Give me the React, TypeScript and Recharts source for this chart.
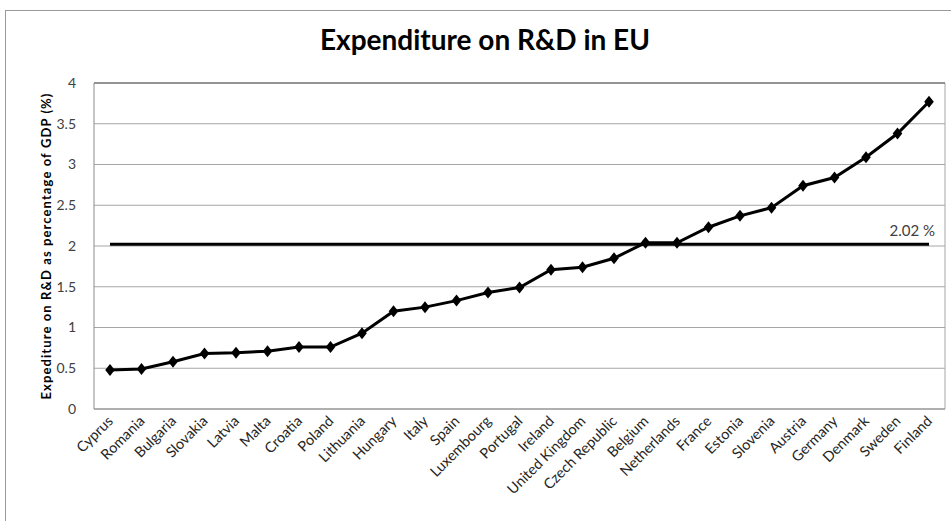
import React from 'react';
import { LineChart, Line, XAxis, YAxis, CartesianGrid, ReferenceLine } from 'recharts';

const countries = [
  'Cyprus', 'Romania', 'Bulgaria', 'Slovakia', 'Latvia', 'Malta', 'Croatia', 'Poland',
  'Lithuania', 'Hungary', 'Italy', 'Spain', 'Luxembourg', 'Portugal', 'Ireland',
  'United Kingdom', 'Czech Republic', 'Belgium', 'Netherlands', 'France', 'Estonia',
  'Slovenia', 'Austria', 'Germany', 'Denmark', 'Sweden', 'Finland',
];

const rdShare = [
  0.48, 0.49, 0.58, 0.68, 0.69, 0.71, 0.76, 0.76, 0.93, 1.2, 1.25, 1.33, 1.43, 1.49,
  1.71, 1.74, 1.85, 2.04, 2.04, 2.23, 2.37, 2.47, 2.74, 2.84, 3.09, 3.38, 3.77,
];

const euAverage = 2.02;
const yTicks = [0, 0.5, 1, 1.5, 2, 2.5, 3, 3.5, 4];

const data = countries.map((c, i) => ({ country: c, value: rdShare[i], avg: euAverage }));

const font = 'Lato, "Open Sans", sans-serif';

const Diamond = (props: any) => {
  const { cx, cy } = props;
  if (cx == null || cy == null) return null;
  const r = 6;
  return (
    <polygon
      points={`${cx},${cy - r} ${cx + r * 0.8},${cy} ${cx},${cy + r} ${cx - r * 0.8},${cy}`}
      fill="#000"
    />
  );
};

const CountryTick = (props: any) => {
  const { x, y, payload } = props;
  return (
    <text
      x={x + 4}
      y={y + 5}
      transform={`rotate(-45, ${x + 4}, ${y + 5})`}
      textAnchor="end"
      fontSize={14.5}
      fontFamily={font}
      fill="#262626"
    >
      {payload.value}
    </text>
  );
};

const AvgLabel = (props: any) => {
  const { x, y, index } = props;
  if (index !== countries.length - 1) return null;
  return (
    <text x={x + 6} y={y - 8} textAnchor="end" fontSize={15} fontFamily={font} fill="#404040">
      {euAverage.toFixed(2)} %
    </text>
  );
};

// right edge of the plot area, drawn as a single vertical grid line
const rightEdge = ({ offset }: any) => [offset.left + offset.width];

export default function App() {
  return (
    <div
      style={{
        position: 'absolute',
        left: 0,
        top: 0,
        width: 951,
        height: 521,
        overflow: 'hidden',
        background: '#fff',
      }}
    >
      <div
        style={{
          position: 'absolute',
          left: 5,
          top: 10,
          width: 1000,
          height: 600,
          border: '1px solid #9a9a9a',
        }}
      />
      <div
        style={{
          position: 'absolute',
          left: 0,
          top: 22,
          width: 970,
          textAlign: 'center',
          fontFamily: font,
          fontWeight: 700,
          fontSize: 28,
          color: '#000',
        }}
      >
        Expenditure on R&amp;D in EU
      </div>
      <div style={{ position: 'absolute', left: 0, top: 0 }}>
        <LineChart
          width={951}
          height={521}
          data={data}
          margin={{ top: 83, right: 6, left: 0, bottom: 0 }}
        >
          <CartesianGrid
            stroke="#a6a6a6"
            strokeWidth={1}
            verticalCoordinatesGenerator={rightEdge}
          />
          <XAxis
            dataKey="country"
            interval={0}
            height={112}
            padding={{ left: 16, right: 16 }}
            tick={<CountryTick />}
            tickLine={false}
            axisLine={{ stroke: '#8c8c8c' }}
          />
          <YAxis
            width={94}
            domain={[0, 4]}
            ticks={yTicks}
            tickLine={false}
            axisLine={{ stroke: '#8c8c8c' }}
            tick={{ fontSize: 14, fontFamily: font, fill: '#404040' }}
            tickMargin={12}
            label={{
              value: 'Expediture on R&D as percentage of GDP (%)',
              angle: -90,
              position: 'insideLeft',
              offset: 46,
              style: {
                fontSize: 13,
                fontWeight: 700,
                fontFamily: font,
                fill: '#000',
                textAnchor: 'middle',
                letterSpacing: 1.1,
              },
            }}
          />
          <ReferenceLine y={4} stroke="#555" />
          <Line
            dataKey="avg"
            stroke="#000"
            strokeWidth={3}
            dot={false}
            label={<AvgLabel />}
            isAnimationActive={false}
          />
          <Line
            dataKey="value"
            stroke="#000"
            strokeWidth={3}
            dot={<Diamond />}
            isAnimationActive={false}
          />
        </LineChart>
      </div>
    </div>
  );
}
